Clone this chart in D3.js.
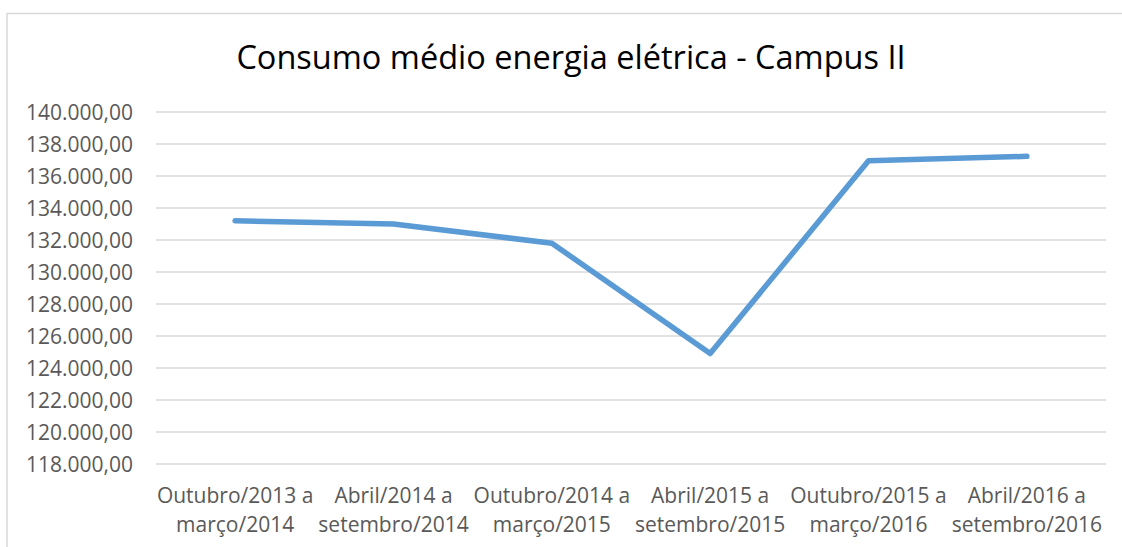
<!DOCTYPE html>
<html>
<head>
<meta charset="utf-8">
<script src="https://cdn.jsdelivr.net/npm/d3@7"></script>
<style>
  html, body { margin: 0; padding: 0; background: #fff; }
  svg { display: block; }
  text { font-family: "Open Sans", "Liberation Sans", sans-serif; }
</style>
</head>
<body>
<svg id="chart" width="1122" height="547"></svg>
<script>
// Semester periods (two-line labels) and average consumption values
const periodsLine1 = ["Outubro/2013 a", "Abril/2014 a", "Outubro/2014 a", "Abril/2015 a", "Outubro/2015 a", "Abril/2016 a"];
const periodsLine2 = ["março/2014", "setembro/2014", "março/2015", "setembro/2015", "março/2016", "setembro/2016"];
const consumo = [133200, 133000, 131800, 124900, 136950, 137230];
const yTicks = [118000, 120000, 122000, 124000, 126000, 128000, 130000, 132000, 134000, 136000, 138000, 140000];
const chartTitle = "Consumo médio energia elétrica - Campus II";

const W = 1122, H = 547;
const plot = { left: 156, right: 1106, top: 112, bottom: 464 };

const svg = d3.select("#chart");

// chart frame (top and left edges visible)
svg.append("path")
  .attr("d", `M7,${H} V13.5 H${W}`)
  .attr("fill", "none")
  .attr("stroke", "#d9d9d9")
  .attr("stroke-width", 1.5);

const x = d3.scaleBand()
  .domain(periodsLine1.map((d, i) => i))
  .range([plot.left, plot.right]);

const y = d3.scaleLinear()
  .domain([118000, 140000])
  .range([plot.bottom, plot.top]);

const fmt = d3.formatLocale({ decimal: ",", thousands: ".", grouping: [3], currency: ["R$", ""] }).format(",.2f");

// horizontal gridlines
svg.append("g")
  .selectAll("line")
  .data(yTicks)
  .join("line")
  .attr("x1", plot.left)
  .attr("x2", plot.right)
  .attr("y1", d => y(d))
  .attr("y2", d => y(d))
  .attr("stroke", "#d9d9d9")
  .attr("stroke-width", 1.3);

// y axis labels
const yAxis = d3.axisLeft(y).tickValues(yTicks).tickFormat(fmt).tickSize(0).tickPadding(0);
const gy = svg.append("g").attr("transform", "translate(133,0)").call(yAxis);
gy.select(".domain").remove();
gy.selectAll("text")
  .attr("font-family", "'Open Sans', sans-serif")
  .attr("font-size", 21)
  .attr("fill", "#595959")
  .attr("dy", "0.36em");

// x axis labels (two lines per category)
const gx = svg.append("g");
const labels = gx.selectAll("text")
  .data(periodsLine1.map((d, i) => i))
  .join("text")
  .attr("text-anchor", "middle")
  .attr("font-size", 21)
  .attr("fill", "#595959");
labels.append("tspan")
  .attr("x", i => x(i) + x.bandwidth() / 2)
  .attr("y", 503)
  .text(i => periodsLine1[i]);
labels.append("tspan")
  .attr("x", i => x(i) + x.bandwidth() / 2)
  .attr("y", 532)
  .text(i => periodsLine2[i]);

// consumption line
const line = d3.line()
  .x((d, i) => x(i) + x.bandwidth() / 2)
  .y(d => y(d));

svg.append("path")
  .datum(consumo)
  .attr("d", line)
  .attr("fill", "none")
  .attr("stroke", "#5b9bd5")
  .attr("stroke-width", 5.5)
  .attr("stroke-linejoin", "round")
  .attr("stroke-linecap", "round");

// title
svg.append("text")
  .attr("x", 571)
  .attr("y", 69)
  .attr("text-anchor", "middle")
  .attr("font-size", 32.5)
  .attr("fill", "#000")
  .text(chartTitle);
</script>
</body>
</html>
